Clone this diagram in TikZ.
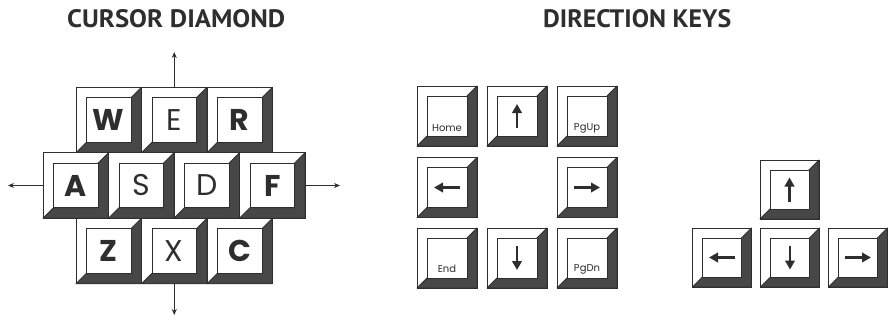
\documentclass[tikz,border=0pt]{standalone}
\usepackage{fontspec}
\usepackage{graphicx}
\usetikzlibrary{arrows.meta,calc}
\newfontfamily\keyfont{Poppins}
\newfontfamily\titlefont{PT Sans}
\definecolor{ink}{HTML}{2E2E2E}
\definecolor{keydark}{HTML}{474747}
% #1 name, #2 cx, #3 cy, #4 size, #5 bevel, #6 face style, #7 label
\newcommand{\keycap}[7]{%
  \pgfmathsetmacro\kh{#4/2}%
  \pgfmathsetmacro\ki{#4/2-#5}%
  \pgfmathsetmacro\kf{#4-2*#5}%
  \node[keyout, minimum size=#4pt] (#1) at (#2,#3) {};
  \filldraw[keyshade] (#2+\kh,#3-\kh) -- (#2+\ki,#3-\ki) -- (#2+\ki,#3+\ki)
     -- (#2-\ki,#3+\ki) -- (#2-\kh,#3+\kh) -- (#2+\kh,#3+\kh) -- cycle;
  \node[keyface, minimum size=\kf pt, #6] (#1f) at (#2,#3) {#7};
}
\begin{document}
\begin{tikzpicture}[x=1pt,y=-1pt,
  keyout/.style={draw=ink, fill=white, line width=0.8pt, inner sep=0pt, outer sep=0pt, rectangle},
  keyshade/.style={fill=keydark, draw=ink, line width=0.8pt, line join=round},
  keyface/.style={draw=ink, fill=white, line width=0.8pt, inner sep=0pt, outer sep=0pt, rectangle, text=ink},
  bigbold/.style={font=\keyfont\bfseries\fontsize{30}{30}\selectfont},
  bigreg/.style={font=\keyfont\fontsize{30}{30}\selectfont},
  plain/.style={},
  smalllbl/.style={font=\keyfont\fontsize{10}{10}\selectfont, text=ink, inner sep=0pt},
  title/.style={anchor=south west, inner sep=0pt, text=ink},
  keyarrow/.style={draw=ink, line width=2.2pt, -{Triangle[length=9pt,width=9.5pt]}},
  dirarrow/.style={draw=ink, line width=0.9pt, -{Stealth[length=6pt,width=5pt]}}]
\useasboundingbox (0,0) rectangle (888,321);

% titles
\node[title] (t1) at (67,28) {\resizebox{218pt}{18pt}{\titlefont\bfseries CURSOR DIAMOND}};
\node[title] (t2) at (543,28) {\resizebox{188pt}{18pt}{\titlefont\bfseries DIRECTION KEYS}};

% cursor diamond
\keycap{kW}{108.75}{120}{65.5}{10.5}{bigbold}{W}
\keycap{kE}{174.25}{120}{65.5}{10.5}{bigreg}{E}
\keycap{kR}{239.75}{120}{65.5}{10.5}{bigbold}{R}
\keycap{kA}{75.75}{185.5}{65.5}{10.5}{bigbold}{A}
\keycap{kS}{141.25}{185.5}{65.5}{10.5}{bigreg}{S}
\keycap{kD}{206.75}{185.5}{65.5}{10.5}{bigreg}{D}
\keycap{kF}{272.25}{185.5}{65.5}{10.5}{bigbold}{F}
\keycap{kZ}{108.75}{251}{65.5}{10.5}{bigbold}{Z}
\keycap{kX}{174.25}{251}{65.5}{10.5}{bigreg}{X}
\keycap{kC}{239.75}{251}{65.5}{10.5}{bigbold}{C}

\coordinate (upend) at (174.25,52);
\coordinate (dnend) at (174.25,315);
\coordinate (ltend) at (8,185.5);
\coordinate (rtend) at (340,185.5);
\draw[dirarrow] (kE.north) -- (upend);
\draw[dirarrow] (kX.south) -- (dnend);
\draw[dirarrow] (kA.west) -- (ltend);
\draw[dirarrow] (kF.east) -- (rtend);

% direction keys (keypad)
\keycap{kHome}{447}{116}{60}{10}{plain}{}
\keycap{kUp}{517}{116}{60}{10}{plain}{}
\keycap{kPgUp}{587}{116}{60}{10}{plain}{}
\keycap{kLeft}{447}{187.5}{60}{10}{plain}{}
\keycap{kRight}{587}{187.5}{60}{10}{plain}{}
\keycap{kEnd}{447}{258}{60}{10}{plain}{}
\keycap{kDown}{517}{258}{60}{10}{plain}{}
\keycap{kPgDn}{587}{258}{60}{10}{plain}{}

\node[smalllbl] (lHome) at ($(kHomef.center)+(0,12)$) {Home};
\node[smalllbl] (lPgUp) at ($(kPgUpf.center)+(0,12)$) {PgUp};
\node[smalllbl] (lEnd) at ($(kEndf.center)+(0,11)$) {End};
\node[smalllbl] (lPgDn) at ($(kPgDnf.center)+(0,11)$) {PgDn};

\draw[keyarrow] ($(kUpf.center)+(0,12)$) -- ($(kUpf.center)+(0,-12)$);
\draw[keyarrow] ($(kDownf.center)+(0,-12)$) -- ($(kDownf.center)+(0,12)$);
\draw[keyarrow] ($(kLeftf.center)+(13,0)$) -- ($(kLeftf.center)+(-13,0)$);
\draw[keyarrow] ($(kRightf.center)+(-13,0)$) -- ($(kRightf.center)+(13,0)$);

% inverted-T arrow keys
\keycap{kUpB}{789.5}{189.5}{59}{10}{plain}{}
\keycap{kLeftB}{722}{257.5}{59}{10}{plain}{}
\keycap{kDownB}{790}{257.5}{59}{10}{plain}{}
\keycap{kRightB}{858}{257.5}{59}{10}{plain}{}

\draw[keyarrow] ($(kUpBf.center)+(0,12)$) -- ($(kUpBf.center)+(0,-12)$);
\draw[keyarrow] ($(kDownBf.center)+(0,-12)$) -- ($(kDownBf.center)+(0,12)$);
\draw[keyarrow] ($(kLeftBf.center)+(13,0)$) -- ($(kLeftBf.center)+(-13,0)$);
\draw[keyarrow] ($(kRightBf.center)+(-13,0)$) -- ($(kRightBf.center)+(13,0)$);
\end{tikzpicture}
\end{document}
